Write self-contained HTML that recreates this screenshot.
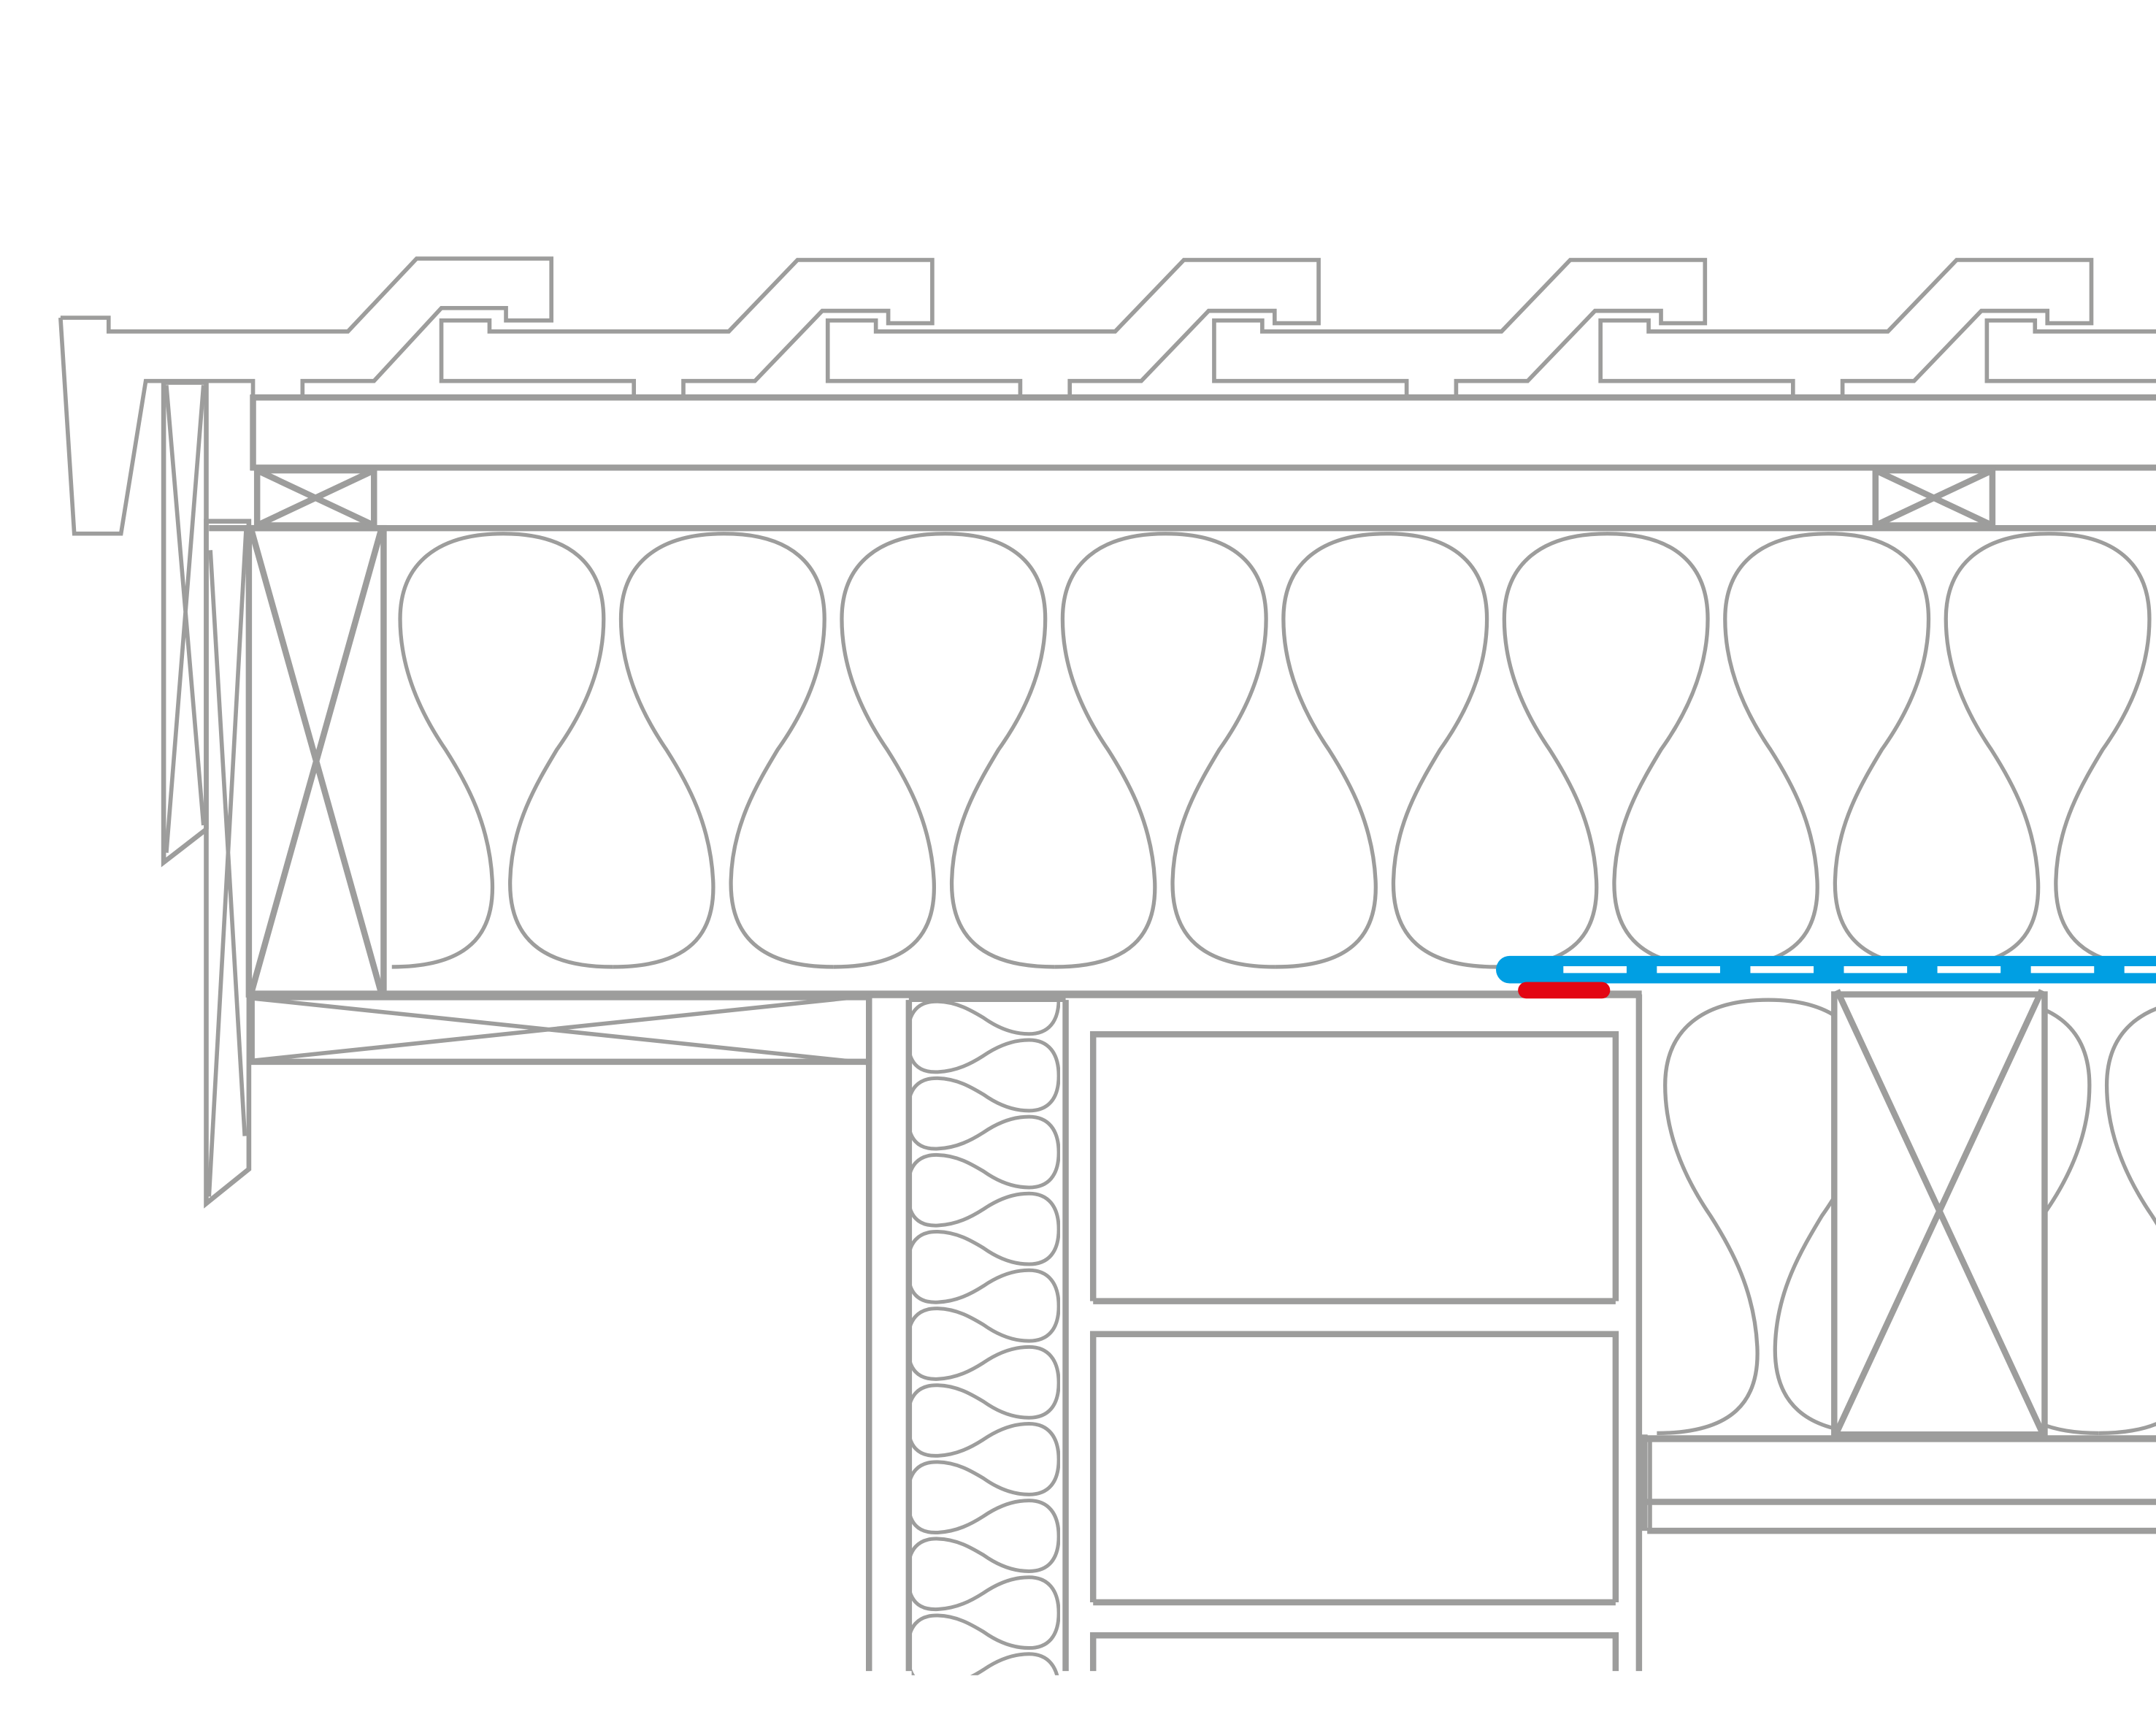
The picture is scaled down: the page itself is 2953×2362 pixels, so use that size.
<!DOCTYPE html>
<html><head><meta charset="utf-8"><style>html,body{margin:0;padding:0;background:#fff}svg{display:block}</style></head>
<body>
<svg width="2953" height="2362" viewBox="0 0 1568 1254.2" preserveAspectRatio="none" xmlns="http://www.w3.org/2000/svg">
<defs>
<path id="ins" d="M285,703 C340,703 360,680 358,640 C356,600 340,570 324,545 C300,510 291,478 291,450 C291,410 318,388 366,388 C414,388 439,410 439,450 C439,478 430,510 405,545 C390,570 372,600 371,640 C370,680 392,703 445.6,703"/>
<path id="ins2" vector-effect="non-scaling-stroke" d="M285,703 C340,703 360,680 358,640 C356,600 340,570 324,545 C300,510 291,478 291,450 C291,410 318,388 366,388 C414,388 439,410 439,450 C439,478 430,510 405,545 C390,570 372,600 371,640 C370,680 392,703 445.6,703"/>
<clipPath id="c1"><rect x="280" y="384" width="1300" height="338"/></clipPath>
<clipPath id="c2"><rect x="663" y="728" width="108" height="490"/></clipPath>
<clipPath id="c3"><rect x="1198" y="725" width="380" height="319"/></clipPath>
</defs>
<g fill="none" stroke="#9d9d9c" stroke-width="3">
<path d="M44,231 H79 V241 H253 L303,188 H401 V233 H368 V224 H321 L272,277 H220 V287"/>
<g id="tile"><path d="M461,287 V277 H321 V233 H356 V241 H530 L580,189 H678 V235 H646 V226 H598 L549,277 H497 V287"/></g>
<use href="#tile" transform="translate(281,0)"/>
<use href="#tile" transform="translate(562,0)"/>
<use href="#tile" transform="translate(843,0)"/>
<use href="#tile" transform="translate(1124,0)"/>
<path d="M44,231 L54,388 H88 L106,277 H184 V287"/>
</g>
<g fill="none" stroke="#9d9d9c" stroke-width="4.5">
<line x1="182" y1="289" x2="1568" y2="289"/>
<line x1="182" y1="340" x2="1568" y2="340"/>
<line x1="184" y1="287" x2="184" y2="342"/>
<line x1="152" y1="384" x2="1568" y2="384"/>
<rect x="187" y="342" width="85" height="40"/>
<path d="M187,342 L272,382 M272,342 L187,382"/>
<rect x="1364" y="342" width="85" height="40"/>
<path d="M1364,342 L1449,382 M1449,342 L1364,382"/>
<path d="M119,278 V627 L150,603 M119,278 H150 V603" stroke-width="3.5"/>
<path d="M121,280 L148,600 M148,280 L121,620" stroke-width="3"/>
<path d="M150,379 H181 V850 L150,875 Z" stroke-width="3.5"/>
<path d="M153,400 L178,826 M179,384 L152,870" stroke-width="3"/>
<rect x="181" y="384" width="98" height="339"/>
<path d="M183,386 L277,721 M277,386 L183,721"/>
<line x1="181" y1="723" x2="1194" y2="723" stroke-width="5.5"/>
<rect x="183" y="725" width="449" height="47"/>
<path d="M185,726 L632,773 M632,724 L185,771" stroke-width="3"/>
<line x1="632" y1="723" x2="632" y2="1215"/>
<line x1="661" y1="727" x2="661" y2="1215"/>
<line x1="775" y1="727" x2="775" y2="1215"/>
<line x1="661" y1="727" x2="775" y2="727" stroke-width="3"/>
<line x1="1192" y1="723" x2="1192" y2="1215"/>
<path d="M795,946 V752 H1175 V946 M795,946 H1175"/>
<path d="M795,1165 V970 H1175 V1165 M795,1165 H1175"/>
<path d="M795,1215 V1189 H1175 V1215"/>
</g>
<g clip-path="url(#c1)" fill="none" stroke="#9d9d9c" stroke-width="2.8">
<use href="#ins"/>
<use href="#ins" transform="translate(160.6,0)"/>
<use href="#ins" transform="translate(321.2,0)"/>
<use href="#ins" transform="translate(481.8,0)"/>
<use href="#ins" transform="translate(642.4,0)"/>
<use href="#ins" transform="translate(803,0)"/>
<use href="#ins" transform="translate(963.6,0)"/>
<use href="#ins" transform="translate(1124.2,0)"/>
<use href="#ins" transform="translate(1284.8,0)"/>
</g>
<g clip-path="url(#c2)">
<g transform="matrix(0,0.3475,-0.349,0,905.4,655)" fill="none" stroke="#9d9d9c" stroke-width="5">
<use href="#ins2" transform="translate(-160.6,0)"/>
<use href="#ins2"/>
<use href="#ins2" transform="translate(160.6,0)"/>
<use href="#ins2" transform="translate(321.2,0)"/>
<use href="#ins2" transform="translate(481.8,0)"/>
<use href="#ins2" transform="translate(642.4,0)"/>
<use href="#ins2" transform="translate(803,0)"/>
<use href="#ins2" transform="translate(963.6,0)"/>
<use href="#ins2" transform="translate(1124.2,0)"/>
<use href="#ins2" transform="translate(1284.8,0)"/>
<use href="#ins2" transform="translate(1445.4,0)"/>
</g>
</g>
<g clip-path="url(#c3)" fill="none" stroke="#9d9d9c" stroke-width="2.8">
<use href="#ins" transform="translate(920,339)"/>
<use href="#ins" transform="translate(1080.6,339)"/>
<use href="#ins" transform="translate(1241.2,339)"/>
</g>
<g fill="none" stroke="#9d9d9c" stroke-width="4.5">
<rect x="1334" y="723" width="153" height="320" fill="#fff"/>
<path d="M1336,720 L1485,1041 M1485,720 L1336,1041"/>
<line x1="1196" y1="1046" x2="1568" y2="1046" stroke-width="5"/>
<line x1="1198" y1="1092" x2="1568" y2="1092"/>
<line x1="1198" y1="1113" x2="1568" y2="1113"/>
<line x1="1196" y1="1043" x2="1196" y2="1113"/>
<line x1="1200" y1="1046" x2="1200" y2="1113" stroke-width="3"/>
</g>
<line x1="1098" y1="705" x2="1575" y2="705" stroke="#009fe3" stroke-width="20" stroke-linecap="round"/>
<line x1="1137" y1="705" x2="1568" y2="705" stroke="#fff" stroke-width="5" stroke-dasharray="46,22"/>
<line x1="1110" y1="720" x2="1165" y2="720" stroke="#e30613" stroke-width="12" stroke-linecap="round"/>
</svg>
</body></html>
